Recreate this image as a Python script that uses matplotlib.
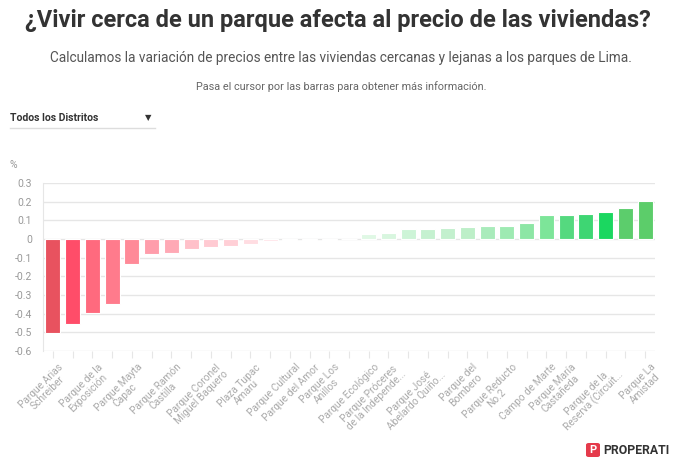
import matplotlib.pyplot as plt
from matplotlib.patches import FancyBboxPatch
from matplotlib.transforms import ScaledTranslation
import numpy as np

parques = [
    "Parque Arias\nSchreiber", "", "Parque de la\nExposición", "", "Parque Mayta\nCapac", "",
    "Parque Ramón\nCastilla", "", "Parque Coronel\nMiguel Baquero", "", "Plaza Tupac\nAmaru", "",
    "Parque Cultural", "Parque del Amor", "Parque Los\nAnillos", "", "Parque Ecológico",
    "Parque Próceres\nde la Independe...", "", "Parque José\nAbelardo Quiño...", "",
    "Parque del\nBombero", "", "Parque Reducto\nNo.2", "", "Campo de Marte",
    "Parque María\nCastañeda", "", "Parque de la\nReserva (Circuit...", "", "Parque La\nAmistad",
]
variacion = [
    -0.502, -0.458, -0.395, -0.348, -0.135, -0.078, -0.075, -0.053, -0.042, -0.040,
    -0.027, -0.011, -0.008, -0.005, -0.003, -0.002,
    0.027, 0.034, 0.054, 0.056, 0.059, 0.065, 0.068, 0.070, 0.088, 0.127,
    0.131, 0.136, 0.142, 0.167, 0.202,
]
colores = [
    "#e8525f", "#ff4d69", "#ff6a7e", "#ff7b8c", "#ff8a98", "#ff9dab", "#ffa9b5", "#ffc0c9",
    "#ffcad2", "#ffcfd6", "#ffdde2", "#ffe6ea", "#ffeaed", "#ffeef0", "#fff0f2", "#fff1f3",
    "#e0f8e5", "#d8f6df", "#cdf4d7", "#c5f1d0", "#c3f0ce", "#bdefc8", "#a9ebbb", "#9eeab2",
    "#8de6a5", "#7de599", "#55d97f", "#3ed673", "#1bd760", "#5ccd6c", "#5ccd6a",
]
yticks = [0.3, 0.2, 0.1, 0, -0.1, -0.2, -0.3, -0.4, -0.5, -0.6]

W, H = 673, 459
fig = plt.figure(figsize=(W / 100, H / 100), dpi=100)
plt.rcParams['font.family'] = ['Roboto', 'DejaVu Sans']

ax = fig.add_axes([43 / W, 1 - 351 / H, (655 - 43) / W, (351 - 183) / H])
x = np.arange(len(variacion))
ax.bar(x, variacion, width=0.76, color=colores, edgecolor='white', linewidth=0.8, zorder=3)
ax.set_xlim(-0.5, len(variacion) - 0.5)
ax.set_ylim(-0.6, 0.3)
ax.set_yticks(yticks)
ax.set_yticklabels(["0" if v == 0 else f"{v:g}" for v in yticks], fontsize=7.5, color='#999999')
ax.grid(axis='y', color='#e6e6e6', linewidth=1, zorder=0)
for s in ['top', 'right', 'bottom']:
    ax.spines[s].set_visible(False)
ax.spines['left'].set_color('#e6e6e6')
ax.tick_params(axis='y', length=0, pad=8)
ax.set_xticks(x)
ax.set_xticklabels(parques, rotation=45, ha='right', va='top', rotation_mode='anchor',
                   multialignment='center', fontsize=7.3, color='#aaaaaa', linespacing=1.0)
ax.tick_params(axis='x', length=5, color='#e6e6e6', pad=3)
shift = ScaledTranslation(5 / 100, 0, fig.dpi_scale_trans)
for lab in ax.get_xticklabels():
    lab.set_transform(lab.get_transform() + shift)

fig.text(13 / W, 1 - 165 / H, "%", fontsize=7.5, color='#999999', ha='center', va='center')

fig.text(338 / W, 1 - 21 / H, "¿Vivir cerca de un parque afecta al precio de las viviendas?",
         fontsize=17, fontweight='bold', color='#333333', ha='center', va='center')
fig.text(341 / W, 1 - 58 / H,
         "Calculamos la variación de precios entre las viviendas cercanas y lejanas a los parques de Lima.",
         fontsize=9.8, color='#555555', ha='center', va='center')
fig.text(341 / W, 1 - 87 / H, "Pasa el cursor por las barras para obtener más información.",
         fontsize=7.8, color='#666666', ha='center', va='center')
fig.text(10 / W, 1 - 118 / H, "Todos los Distritos", fontsize=7.5, fontweight='bold',
         color='#333333', ha='left', va='center')
fig.text(148 / W, 1 - 118 / H, "▼", fontsize=6, color='#333333', ha='center', va='center',
         family=['DejaVu Sans'])
fig.add_artist(plt.Line2D([10 / W, 155 / W], [1 - 128 / H, 1 - 128 / H], color='#dddddd', linewidth=1))

# logo
fig.patches.append(FancyBboxPatch((586 / W, 1 - 457 / H), 14 / W, 14 / H,
                                  boxstyle="round,pad=0,rounding_size=0.004",
                                  transform=fig.transFigure, facecolor='#e53a4b', edgecolor='none'))
fig.text(593 / W, 1 - 450 / H, "P", fontsize=8, fontweight='bold', color='white',
         ha='center', va='center')
fig.text(603 / W, 1 - 450 / H, "PROPERATI", fontsize=8.8, fontweight='bold', color='#333333',
         ha='left', va='center')

fig.savefig('out.png', dpi=100)
